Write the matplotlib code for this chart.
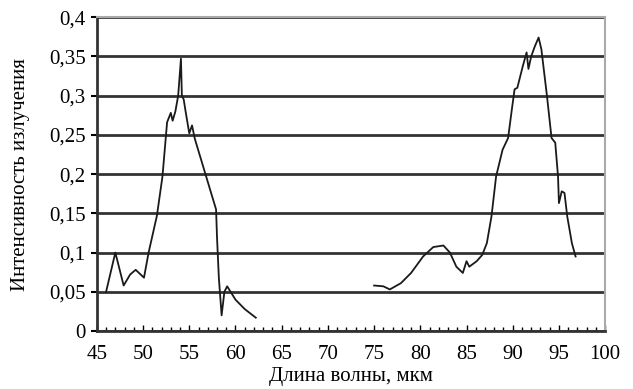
import numpy as np
import matplotlib
matplotlib.use('Agg')
import matplotlib.pyplot as plt
from matplotlib.ticker import FuncFormatter, MultipleLocator

# Первый пик (45-62 мкм)
wl_1 = [46.0, 47.0, 47.9, 48.6, 49.2, 50.1, 50.6, 51.5, 52.1, 52.6, 53.0, 53.2, 53.5,
        53.8, 54.1, 54.2, 54.4, 54.6, 55.0, 55.3, 55.6, 56.8, 57.9, 58.0, 58.2,
        58.5, 58.8, 59.1, 60.0, 61.0, 62.2]
int_1 = [0.05, 0.1, 0.058, 0.072, 0.078, 0.068, 0.1, 0.147, 0.197, 0.266, 0.278, 0.268, 0.28,
         0.3, 0.347, 0.3, 0.295, 0.28, 0.252, 0.262, 0.245, 0.198, 0.155, 0.12, 0.068,
         0.02, 0.05, 0.057, 0.04, 0.028, 0.017]

# Второй пик (75-97 мкм)
wl_2 = [75.0, 76.0, 76.7, 77.9, 79.0, 80.3, 81.4, 82.5, 83.2, 83.9, 84.6, 85.0,
        85.3, 86.1, 86.7, 87.2, 87.7, 88.2, 88.9, 89.5, 89.9, 90.2, 90.5, 91.1,
        91.5, 91.7, 92.0, 92.4, 92.8, 93.1, 93.7, 94.2, 94.6, 94.9, 95.0, 95.3,
        95.6, 95.9, 96.4, 96.8]
int_2 = [0.058, 0.057, 0.053, 0.061, 0.074, 0.095, 0.107, 0.109, 0.1, 0.082, 0.074, 0.089,
         0.082, 0.089, 0.097, 0.112, 0.146, 0.197, 0.231, 0.246, 0.282, 0.308, 0.31, 0.338,
         0.355, 0.334, 0.35, 0.363, 0.374, 0.359, 0.3, 0.246, 0.24, 0.197, 0.163, 0.178,
         0.176, 0.146, 0.112, 0.095]

x_ticks = np.arange(45, 101, 5)
y_ticks = np.arange(0, 0.401, 0.05)

plt.rcParams['font.family'] = ['Liberation Serif', 'DejaVu Serif']

fig = plt.figure(figsize=(6.33, 3.89), dpi=100)
ax = fig.add_axes([0.153, 0.149, 0.803, 0.807])

ax.plot(wl_1, int_1, color='#1a1a1a', lw=1.3)
ax.plot(wl_2, int_2, color='#1a1a1a', lw=1.3)

ax.set_xlim(45, 100)
ax.set_ylim(0, 0.4)
ax.set_xticks(x_ticks)
ax.set_yticks(y_ticks)
ax.xaxis.set_minor_locator(MultipleLocator(1))

fmt = FuncFormatter(lambda v, p: ('%g' % round(v, 2)).replace('.', ','))
ax.yaxis.set_major_formatter(fmt)

ax.grid(axis='y', color='#333333', lw=2.0)
ax.set_axisbelow(True)

ax.tick_params(axis='x', which='major', direction='in', length=4, width=1, labelsize=15, pad=10)
ax.tick_params(axis='x', which='minor', direction='in', length=3, width=1)
ax.tick_params(axis='y', direction='out', length=4, width=1.5, labelsize=15, pad=4)

for side in ['left', 'bottom']:
    ax.spines[side].set_color('#333333')
    ax.spines[side].set_linewidth(2)
for side in ['top', 'right']:
    ax.spines[side].set_color('#aaaaaa')
    ax.spines[side].set_linewidth(1.5)

ax.set_xlabel('Длина волны, мкм', fontsize=15, labelpad=2)
ax.set_ylabel('Интенсивность излучения', fontsize=15, labelpad=14)

fig.savefig('out.png', dpi=100)
